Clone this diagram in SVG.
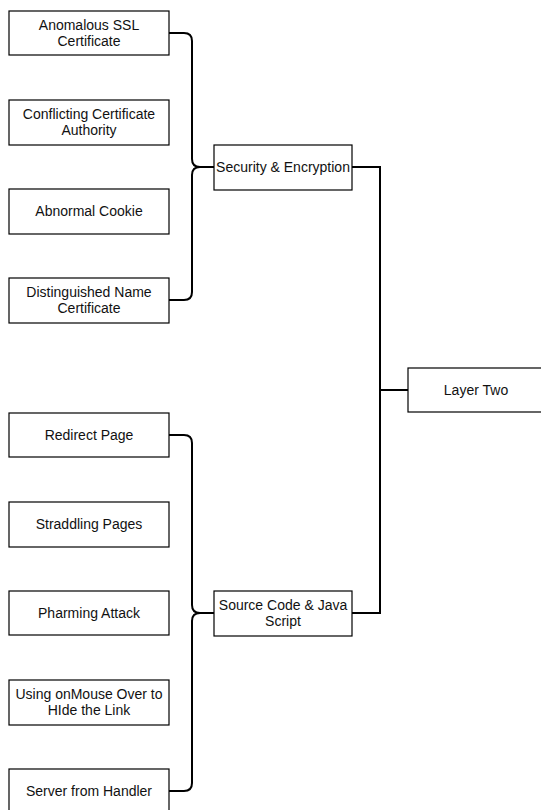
<svg xmlns="http://www.w3.org/2000/svg" width="541" height="810" viewBox="0 0 541 810">
  <style>
    .box { fill: #ffffff; stroke: #000000; stroke-width: 1.2; }
    .lbl { font-family: "Liberation Sans", Arial, sans-serif; font-size: 14px; fill: #111111; text-anchor: middle; }
    .wire { fill: none; stroke: #000000; stroke-width: 2; stroke-linejoin: miter; }
  </style>
  <rect width="541" height="810" fill="#ffffff"/>

  <!-- connectors -->
  <g id="connectors">
    <!-- upper brace: four leaves into Security & Encryption -->
    <path class="wire" d="M169,33 H184 Q192,33 192,41 V159 Q192,167 200,167 Q192,167 192,175 V292 Q192,300 184,300 H169"/>
    <path class="wire" d="M200,167 H214"/>
    <!-- lower brace: five leaves into Source Code & Java Script -->
    <path class="wire" d="M169,435 H184 Q192,435 192,443 V605 Q192,613 200,613 Q192,613 192,621 V783 Q192,791 184,791 H169"/>
    <path class="wire" d="M200,613 H214"/>
    <!-- right bracket joining both groups to Layer Two -->
    <path class="wire" d="M352,167 H380 V613 H352"/>
    <path class="wire" d="M380,390 H408"/>
  </g>

  <!-- upper leaves -->
  <g id="anomalous-ssl">
    <rect class="box" x="9" y="11" width="160" height="44"/>
    <text class="lbl" x="89" y="29.5">Anomalous SSL</text>
    <text class="lbl" x="89" y="45.5">Certificate</text>
  </g>
  <g id="conflicting-ca">
    <rect class="box" x="9" y="100" width="160" height="45"/>
    <text class="lbl" x="89" y="119">Conflicting Certificate</text>
    <text class="lbl" x="89" y="135">Authority</text>
  </g>
  <g id="abnormal-cookie">
    <rect class="box" x="9" y="189" width="160" height="45"/>
    <text class="lbl" x="89" y="216">Abnormal Cookie</text>
  </g>
  <g id="distinguished-name">
    <rect class="box" x="9" y="278" width="160" height="45"/>
    <text class="lbl" x="89" y="297">Distinguished Name</text>
    <text class="lbl" x="89" y="313">Certificate</text>
  </g>

  <!-- lower leaves -->
  <g id="redirect-page">
    <rect class="box" x="9" y="413" width="160" height="44"/>
    <text class="lbl" x="89" y="440">Redirect Page</text>
  </g>
  <g id="straddling-pages">
    <rect class="box" x="9" y="502" width="160" height="45"/>
    <text class="lbl" x="89" y="529">Straddling Pages</text>
  </g>
  <g id="pharming-attack">
    <rect class="box" x="9" y="591" width="160" height="44"/>
    <text class="lbl" x="89" y="618">Pharming Attack</text>
  </g>
  <g id="onmouse-over">
    <rect class="box" x="9" y="680" width="160" height="45"/>
    <text class="lbl" x="89" y="699">Using onMouse Over to</text>
    <text class="lbl" x="89" y="715">HIde the Link</text>
  </g>
  <g id="server-from-handler">
    <rect class="box" x="9" y="769" width="160" height="45"/>
    <text class="lbl" x="89" y="796">Server from Handler</text>
  </g>

  <!-- middle layer -->
  <g id="security-encryption">
    <rect class="box" x="214" y="145" width="138" height="45"/>
    <text class="lbl" x="283" y="172">Security &amp; Encryption</text>
  </g>
  <g id="source-code-js">
    <rect class="box" x="214" y="591" width="138" height="45"/>
    <text class="lbl" x="283" y="610">Source Code &amp; Java</text>
    <text class="lbl" x="283" y="626">Script</text>
  </g>

  <!-- top layer -->
  <g id="layer-two">
    <rect class="box" x="408" y="368" width="140" height="44"/>
    <text class="lbl" x="476" y="394.5">Layer Two</text>
  </g>
</svg>
